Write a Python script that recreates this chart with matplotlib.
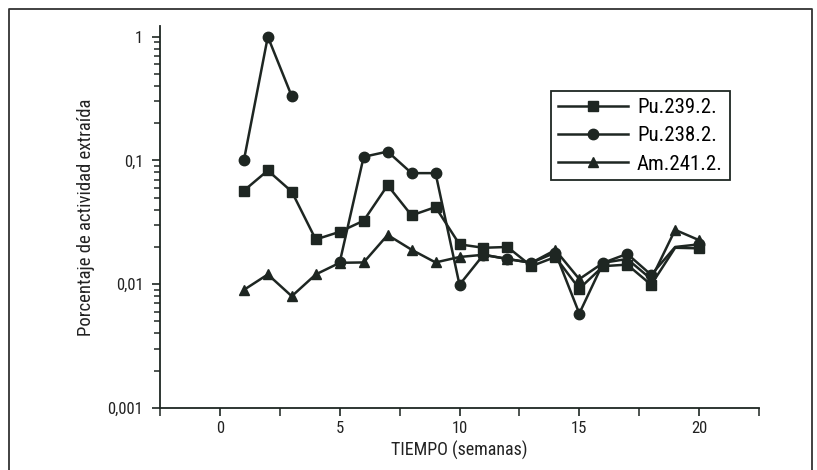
import numpy as np
import matplotlib
matplotlib.use("Agg")
import matplotlib.pyplot as plt
from matplotlib.ticker import FixedLocator, FixedFormatter, LogLocator, NullFormatter
from matplotlib.lines import Line2D
from matplotlib import font_manager

weeks = list(range(1, 21))
pu239 = [0.057, 0.083, 0.056, 0.023, 0.0265, 0.0326, 0.063, 0.036, 0.042, 0.021,
         0.0197, 0.020, 0.014, 0.0166, 0.0092, 0.014, 0.0144, 0.0099, 0.0197, 0.0195]
pu238 = [0.10, 1.0, 0.33, np.nan, 0.015, 0.107, 0.118, 0.079, 0.079, 0.0099,
         0.0173, 0.016, 0.0149, 0.018, 0.0058, 0.0149, 0.0176, 0.0119, 0.0200, 0.021]
am241 = [0.009, 0.012, 0.008, 0.012, 0.0149, 0.015, 0.025, 0.019, 0.015, 0.0166,
         0.0173, 0.016, 0.0149, 0.0189, 0.011, 0.0149, 0.016, 0.011, 0.0275, 0.0227]
labels = ["Pu.239.2.", "Pu.238.2.", "Am.241.2."]
ytick_vals = [0.001, 0.01, 0.1, 1]
ytick_labels = ["0,001", "0,01", "0,1", "1"]
xticks = [0, 5, 10, 15, 20]

names = {f.name for f in font_manager.fontManager.ttflist}
fams = [n for n in ['Roboto Condensed', 'Liberation Sans Narrow', 'Liberation Sans'] if n in names]
plt.rcParams['font.family'] = fams + ['DejaVu Sans']
col = '#1e2622'

fig = plt.figure(figsize=(8.17, 4.70), dpi=100)
ax = fig.add_axes([160/817, 1-408/470, (759-160)/817, (408-26)/470])

nomark19 = [i for i in range(20) if weeks[i] != 19]
ax.plot(weeks, pu239, color=col, lw=1.8, marker='s', ms=6.5, markevery=nomark19)
ax.plot(weeks, pu238, color=col, lw=1.8, marker='o', ms=7.5, markevery=nomark19)
ax.plot(weeks, am241, color=col, lw=1.8, marker='^', ms=7.5)

ax.set_yscale('log')
ax.set_ylim(0.001, 1.22)
ax.set_xlim(-2.5, 22.5)
ax.yaxis.set_major_locator(FixedLocator(ytick_vals))
ax.yaxis.set_major_formatter(FixedFormatter(ytick_labels))
ax.yaxis.set_minor_locator(LogLocator(base=10, subs=np.arange(2, 10)))
ax.yaxis.set_minor_formatter(NullFormatter())
ax.set_xticks(xticks)
ax.set_xticks(np.arange(-2.5, 23, 5), minor=True)

for s in ['top', 'right']:
    ax.spines[s].set_visible(False)
for s in ['left', 'bottom']:
    ax.spines[s].set_color(col)
    ax.spines[s].set_linewidth(1.3)
ax.tick_params(which='major', length=6, width=1.2, color=col, labelsize=12, labelcolor='#222')
ax.tick_params(axis='y', which='major', pad=6)
ax.tick_params(which='minor', length=4, width=1.1, color=col)
ax.tick_params(axis='x', which='minor', length=6)

ax.set_xlabel("TIEMPO (semanas)", fontsize=13, color='#222', labelpad=3)
ax.set_ylabel("Porcentaje de actividad extraída", fontsize=13.5, color='#222', labelpad=9)

handles = [Line2D([], [], color=col, lw=1.8, marker=m, ms=s) for m, s in [('s', 6.5), ('o', 7.5), ('^', 7.5)]]
leg = ax.legend(handles, labels, loc='upper left', bbox_to_anchor=(0.653, 0.829),
                borderaxespad=0, fontsize=15, handlelength=3.35, fancybox=False,
                edgecolor=col, framealpha=1, labelspacing=0.45, handletextpad=0.45,
                borderpad=0.32)
leg.get_frame().set_linewidth(1.3)

# outer frame
fx0, fy1, fx1 = 9/817, 1-9/470, 812/817
fig.add_artist(Line2D([fx0, fx0, fx1, fx1], [0, fy1, fy1, 0], transform=fig.transFigure,
                      color='#333', lw=1.3))

fig.savefig("out.png", dpi=100)
